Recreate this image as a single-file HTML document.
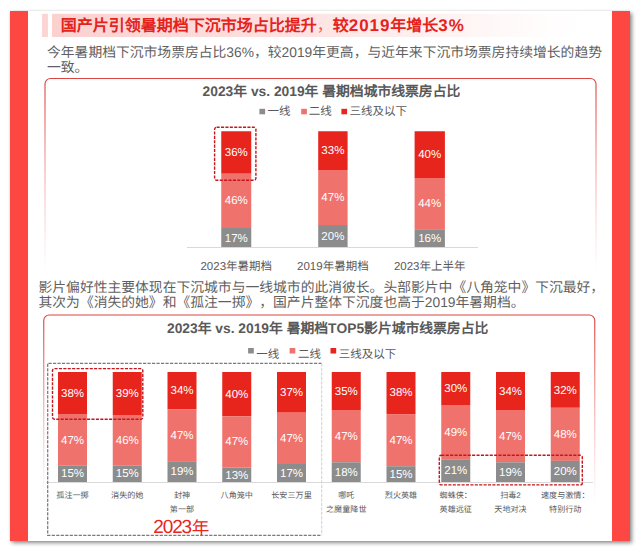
<!DOCTYPE html>
<html lang="zh-CN"><head><meta charset="utf-8"><title>slide</title>
<style>
html,body{margin:0;padding:0;background:#fff;}
body{width:641px;height:553px;position:relative;overflow:hidden;font-family:"Liberation Sans",sans-serif;color:#595959;text-rendering:geometricPrecision;text-spacing-trim:space-all;font-kerning:none;}
div{position:absolute;box-sizing:border-box;white-space:nowrap;}
.slide{left:10px;top:11px;width:620px;height:530px;background:#fff;box-shadow:1.5px 1.5px 4px rgba(0,0,0,.45),0 0 1px rgba(0,0,0,.14);}
.band{background:#fd4743;top:11px;height:530px;}
.ttl{font-weight:bold;font-size:16px;color:#e5231d;line-height:22px;}
.ttl .n{font-size:17px;letter-spacing:.9px;}
.p{font-size:13.8px;line-height:15.4px;color:#5f5f5f;}
.ct{font-weight:bold;font-size:13.8px;line-height:16px;color:#595959;}
.lg{font-size:11.5px;line-height:14px;color:#595959;}
.v{font-size:11.5px;line-height:14px;color:#fff;text-align:center;}
.c1{font-size:11.5px;line-height:14px;color:#595959;text-align:center;}
.c2{font-size:8.1px;line-height:13.6px;color:#595959;text-align:center;}
</style></head><body>
<div class="slide"></div>
<div class="band" style="left:10px;width:18.3px;"></div>
<div class="band" style="left:612.3px;width:17.7px;"></div>
<svg style="position:absolute;left:0;top:0;" width="641" height="45"><defs><linearGradient id="tg" x1="52" y1="0" x2="608" y2="0" gradientUnits="userSpaceOnUse"><stop offset="0" stop-color="#fbd1d0"/><stop offset="0.4" stop-color="#fde0df"/><stop offset="0.65" stop-color="#feefee"/><stop offset="0.85" stop-color="#fffbfb"/><stop offset="0.95" stop-color="#ffffff"/></linearGradient></defs><rect x="42.1" y="13.8" width="5.8" height="23.2" fill="#fbd4d3"/><rect x="52" y="13.8" width="556" height="23.2" fill="url(#tg)"/></svg>
<div class="ttl" style="left:60.8px;top:14.5px;">国产片引领暑期档下沉市场占比提升<span style="font-weight:normal;color:#ec5a55">，</span>较<span class="n">2019</span>年增长<span class="n">3%</span></div>
<div class="p" style="left:47px;top:44.7px;">今年暑期档下沉市场票房占比36%，较2019年更高，与近年来下沉市场票房持续增长的趋势<br>一致。</div>

<svg style="position:absolute;left:0;top:0;" width="641" height="553"><defs><linearGradient id="g78" x1="0" y1="78.45" x2="0" y2="274.45" gradientUnits="userSpaceOnUse"><stop offset="0" stop-color="#d94540"/><stop offset="0.25" stop-color="#e8605c" stop-opacity="0.85"/><stop offset="1" stop-color="#f4a6a3" stop-opacity="0"/></linearGradient></defs><rect x="45.0" y="78.45" width="551" height="196" rx="5.5" ry="5.5" fill="none" stroke="url(#g78)" stroke-width="1.15"/></svg>
<div class="ct" style="left:202.6px;top:83.5px;">2023年 vs. 2019年 暑期档城市线票房占比</div>
<svg style="position:absolute;left:0;top:0;" width="641" height="553"><rect x="259.4" y="108.8" width="5.7" height="5.5" fill="#8c8c8c"/><rect x="301.2" y="108.8" width="5.7" height="5.5" fill="#f0726c"/><rect x="341.4" y="108.8" width="5.7" height="5.5" fill="#e8251d"/></svg><div class="lg" style="left:267.5px;top:105.0px;">一线</div><div class="lg" style="left:308.8px;top:105.0px;">二线</div><div class="lg" style="left:349.5px;top:105.0px;">三线及以下</div>
<div style="left:187px;top:247px;width:291px;height:1px;background:#d9d9d9;"></div>
<svg style="position:absolute;left:0;top:0;" width="641" height="553"><rect x="221.25" y="131.25" width="30" height="42.5" fill="#e8251d"/><rect x="221.25" y="173.75" width="30" height="54.25" fill="#f0726c"/><rect x="221.25" y="228" width="30" height="19" fill="#8c8c8c"/></svg>
<div class="v" style="left:211.25px;width:50px;top:145.6px;">36%</div>
<div class="v" style="left:211.25px;width:50px;top:194.35px;">46%</div>
<div class="v" style="left:211.25px;width:50px;top:231.6px;">17%</div>
<div class="c1" style="left:186.25px;width:100px;top:260.3px;">2023年暑期档</div>
<svg style="position:absolute;left:0;top:0;" width="641" height="553"><rect x="318.2" y="131.25" width="29.4" height="38.75" fill="#e8251d"/><rect x="318.2" y="170" width="29.4" height="55" fill="#f0726c"/><rect x="318.2" y="225" width="29.4" height="22" fill="#8c8c8c"/></svg>
<div class="v" style="left:308.2px;width:49.4px;top:144.35px;">33%</div>
<div class="v" style="left:308.2px;width:49.4px;top:191.1px;">47%</div>
<div class="v" style="left:308.2px;width:49.4px;top:230.1px;">20%</div>
<div class="c1" style="left:283.2px;width:99.4px;top:260.3px;">2019年暑期档</div>
<svg style="position:absolute;left:0;top:0;" width="641" height="553"><rect x="414.6" y="131.25" width="30.3" height="46.75" fill="#e8251d"/><rect x="414.6" y="178.0" width="30.3" height="51.25" fill="#f0726c"/><rect x="414.6" y="229.25" width="30.3" height="17.75" fill="#8c8c8c"/></svg>
<div class="v" style="left:404.6px;width:50.3px;top:147.85px;">40%</div>
<div class="v" style="left:404.6px;width:50.3px;top:196.6px;">44%</div>
<div class="v" style="left:404.6px;width:50.3px;top:232.35px;">16%</div>
<div class="c1" style="left:379.6px;width:100.3px;top:260.3px;">2023年上半年</div>
<svg style="position:absolute;left:0;top:0;" width="641" height="553"><rect x="214.6" y="127.2" width="41.30000000000001" height="53.10000000000001" rx="2" ry="2" fill="none" stroke="#c4161c" stroke-width="1.4" stroke-dasharray="3.1 1.3"/></svg>
<div class="p" style="left:38.5px;top:279.8px;">影片偏好性主要体现在下沉城市与一线城市的此消彼长。头部影片中《八角笼中》下沉最好，<br>其次为《消失的她》和《孤注一掷》，国产片整体下沉度也高于2019年暑期档。</div>
<svg style="position:absolute;left:0;top:0;" width="641" height="553"><defs><linearGradient id="g315" x1="0" y1="315.0" x2="0" y2="507.0" gradientUnits="userSpaceOnUse"><stop offset="0" stop-color="#d94540"/><stop offset="0.25" stop-color="#e8605c" stop-opacity="0.85"/><stop offset="1" stop-color="#f4a6a3" stop-opacity="0"/></linearGradient></defs><rect x="43.75" y="315.0" width="551" height="192" rx="5.5" ry="5.5" fill="none" stroke="url(#g315)" stroke-width="1.15"/></svg>
<div class="ct" style="left:167px;top:320.5px;">2023年 vs. 2019年 暑期档TOP5影片城市线票房占比</div>
<svg style="position:absolute;left:0;top:0;" width="641" height="553"><rect x="248.1" y="348.0" width="5.7" height="5.5" fill="#8c8c8c"/><rect x="289.6" y="348.0" width="5.7" height="5.5" fill="#f0726c"/><rect x="330.5" y="348.0" width="5.7" height="5.5" fill="#e8251d"/></svg><div class="lg" style="left:256.3px;top:347.5px;">一线</div><div class="lg" style="left:298px;top:347.5px;">二线</div><div class="lg" style="left:338.8px;top:347.5px;">三线及以下</div>
<div style="left:45.5px;top:482px;width:547px;height:1px;background:#d9d9d9;"></div>
<svg style="position:absolute;left:0;top:0;" width="641" height="553"><rect x="58.0" y="372" width="29" height="42.0" fill="#e8251d"/><rect x="58.0" y="414.0" width="29" height="51.75" fill="#f0726c"/><rect x="58.0" y="465.75" width="29" height="16.25" fill="#8c8c8c"/></svg>
<div class="v" style="left:48.0px;width:49px;top:386.85px;">38%</div>
<div class="v" style="left:48.0px;width:49px;top:434.1px;">47%</div>
<div class="v" style="left:48.0px;width:49px;top:467.35px;">15%</div>
<div class="c2" style="left:38.0px;width:69px;top:489.3px;">孤注一掷</div>
<svg style="position:absolute;left:0;top:0;" width="641" height="553"><rect x="112.75" y="372" width="29" height="43.0" fill="#e8251d"/><rect x="112.75" y="415.0" width="29" height="50.75" fill="#f0726c"/><rect x="112.75" y="465.75" width="29" height="16.25" fill="#8c8c8c"/></svg>
<div class="v" style="left:102.75px;width:49px;top:386.85px;">39%</div>
<div class="v" style="left:102.75px;width:49px;top:434.1px;">46%</div>
<div class="v" style="left:102.75px;width:49px;top:467.35px;">15%</div>
<div class="c2" style="left:92.75px;width:69px;top:489.3px;">消失的她</div>
<svg style="position:absolute;left:0;top:0;" width="641" height="553"><rect x="167.5" y="372" width="29" height="37.19999999999999" fill="#e8251d"/><rect x="167.5" y="409.2" width="29" height="52.05000000000001" fill="#f0726c"/><rect x="167.5" y="461.25" width="29" height="20.75" fill="#8c8c8c"/></svg>
<div class="v" style="left:157.5px;width:49px;top:384.1px;">34%</div>
<div class="v" style="left:157.5px;width:49px;top:428.6px;">47%</div>
<div class="v" style="left:157.5px;width:49px;top:465.1px;">19%</div>
<div class="c2" style="left:147.5px;width:69px;top:489.3px;">封神<br>第一部</div>
<svg style="position:absolute;left:0;top:0;" width="641" height="553"><rect x="222.25" y="372" width="29" height="44.25" fill="#e8251d"/><rect x="222.25" y="416.25" width="29" height="51.25" fill="#f0726c"/><rect x="222.25" y="467.5" width="29" height="14.5" fill="#8c8c8c"/></svg>
<div class="v" style="left:212.25px;width:49px;top:387.85px;">40%</div>
<div class="v" style="left:212.25px;width:49px;top:435.1px;">47%</div>
<div class="v" style="left:212.25px;width:49px;top:468.6px;">13%</div>
<div class="c2" style="left:202.25px;width:69px;top:489.3px;">八角笼中</div>
<svg style="position:absolute;left:0;top:0;" width="641" height="553"><rect x="277.0" y="372" width="29" height="40.69999999999999" fill="#e8251d"/><rect x="277.0" y="412.7" width="29" height="51.30000000000001" fill="#f0726c"/><rect x="277.0" y="464.0" width="29" height="18.0" fill="#8c8c8c"/></svg>
<div class="v" style="left:267.0px;width:49px;top:386.1px;">37%</div>
<div class="v" style="left:267.0px;width:49px;top:431.6px;">47%</div>
<div class="v" style="left:267.0px;width:49px;top:466.6px;">17%</div>
<div class="c2" style="left:257.0px;width:69px;top:489.3px;">长安三万里</div>
<svg style="position:absolute;left:0;top:0;" width="641" height="553"><rect x="331.75" y="372" width="29" height="38.0" fill="#e8251d"/><rect x="331.75" y="410.0" width="29" height="52.30000000000001" fill="#f0726c"/><rect x="331.75" y="462.3" width="29" height="19.69999999999999" fill="#8c8c8c"/></svg>
<div class="v" style="left:321.75px;width:49px;top:384.85px;">35%</div>
<div class="v" style="left:321.75px;width:49px;top:429.85px;">47%</div>
<div class="v" style="left:321.75px;width:49px;top:466.1px;">18%</div>
<div class="c2" style="left:311.75px;width:69px;top:489.3px;">哪吒<br>之魔童降世</div>
<svg style="position:absolute;left:0;top:0;" width="641" height="553"><rect x="386.5" y="372" width="29" height="42.10000000000002" fill="#e8251d"/><rect x="386.5" y="414.1" width="29" height="52.14999999999998" fill="#f0726c"/><rect x="386.5" y="466.25" width="29" height="15.75" fill="#8c8c8c"/></svg>
<div class="v" style="left:376.5px;width:49px;top:386.1px;">38%</div>
<div class="v" style="left:376.5px;width:49px;top:433.6px;">47%</div>
<div class="v" style="left:376.5px;width:49px;top:468.1px;">15%</div>
<div class="c2" style="left:366.5px;width:69px;top:489.3px;">烈火英雄</div>
<svg style="position:absolute;left:0;top:0;" width="641" height="553"><rect x="441.25" y="372" width="29" height="33" fill="#e8251d"/><rect x="441.25" y="405" width="29" height="54.30000000000001" fill="#f0726c"/><rect x="441.25" y="459.3" width="29" height="22.69999999999999" fill="#8c8c8c"/></svg>
<div class="v" style="left:431.25px;width:49px;top:382.35px;">30%</div>
<div class="v" style="left:431.25px;width:49px;top:426.1px;">49%</div>
<div class="v" style="left:431.25px;width:49px;top:464.1px;">21%</div>
<div class="c2" style="left:421.25px;width:69px;top:489.3px;">蜘蛛侠：<br>英雄远征</div>
<svg style="position:absolute;left:0;top:0;" width="641" height="553"><rect x="496.0" y="372" width="29" height="38.0" fill="#e8251d"/><rect x="496.0" y="410.0" width="29" height="52.30000000000001" fill="#f0726c"/><rect x="496.0" y="462.3" width="29" height="19.69999999999999" fill="#8c8c8c"/></svg>
<div class="v" style="left:486.0px;width:49px;top:384.85px;">34%</div>
<div class="v" style="left:486.0px;width:49px;top:429.6px;">47%</div>
<div class="v" style="left:486.0px;width:49px;top:466.1px;">19%</div>
<div class="c2" style="left:476.0px;width:69px;top:489.3px;">扫毒2<br>天地对决</div>
<svg style="position:absolute;left:0;top:0;" width="641" height="553"><rect x="550.75" y="372" width="29" height="35.80000000000001" fill="#e8251d"/><rect x="550.75" y="407.8" width="29" height="53.099999999999966" fill="#f0726c"/><rect x="550.75" y="460.9" width="29" height="21.100000000000023" fill="#8c8c8c"/></svg>
<div class="v" style="left:540.75px;width:49px;top:383.6px;">32%</div>
<div class="v" style="left:540.75px;width:49px;top:428.1px;">48%</div>
<div class="v" style="left:540.75px;width:49px;top:465.1px;">20%</div>
<div class="c2" style="left:530.75px;width:69px;top:489.3px;">速度与激情：<br>特别行动</div>
<svg style="position:absolute;left:0;top:0;" width="641" height="553"><path d="M321.7 363.3H47.7V535.3H321.7" fill="none" stroke="#7a7a7a" stroke-width="1.25" stroke-dasharray="3.2 1.3"/><path d="M321.7 363.3V535.3" fill="none" stroke="#d4d4d4" stroke-width="1.1" stroke-dasharray="3.2 1.3"/></svg>
<svg style="position:absolute;left:0;top:0;" width="641" height="553"><rect x="52.5" y="368.6" width="90.30000000000001" height="50.599999999999966" rx="2" ry="2" fill="none" stroke="#c4161c" stroke-width="1.4" stroke-dasharray="3.1 1.3"/></svg>
<svg style="position:absolute;left:0;top:0;" width="641" height="553"><rect x="439.3" y="455.2" width="142.99999999999994" height="29.69999999999999" rx="2" ry="2" fill="none" stroke="#c4161c" stroke-width="1.4" stroke-dasharray="3.1 1.3"/></svg>
<div style="left:153.3px;top:516.4px;font-size:19px;line-height:22px;color:#e8251d;letter-spacing:-1.15px;">2023<span style="position:relative;top:0.6px;left:0.8px;font-size:17.6px;letter-spacing:0;">年</span></div>
</body></html>
